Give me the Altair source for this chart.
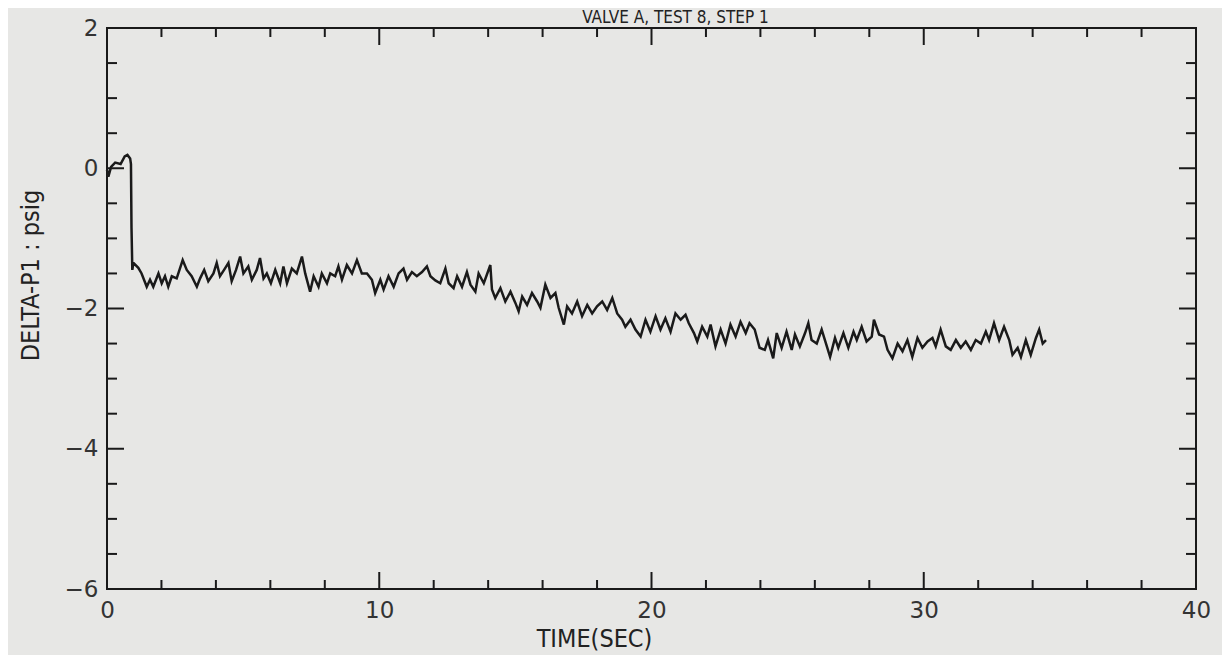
import altair as alt
import pandas as pd

title_text = "VALVE A, TEST 8, STEP 1"
x_title = "TIME(SEC)"
y_title = "DELTA-P1 : psig"

time_s = [
    0.00, 0.05, 0.15, 0.30, 0.50, 0.65, 0.75, 0.85, 0.88, 0.90, 0.93, 0.97,
    1.15, 1.27, 1.46, 1.58, 1.70, 1.89, 2.01, 2.13, 2.25, 2.38, 2.56, 2.78,
    2.93, 3.11, 3.30, 3.42, 3.57, 3.72, 3.91, 4.03, 4.15, 4.30, 4.46, 4.58,
    4.74, 4.89, 5.01, 5.19, 5.32, 5.50, 5.62, 5.75, 5.87, 6.02, 6.18, 6.36,
    6.48, 6.61, 6.79, 6.97, 7.16, 7.28, 7.46, 7.59, 7.77, 7.89, 8.08, 8.20,
    8.38, 8.50, 8.63, 8.81, 9.00, 9.18, 9.36, 9.55, 9.73, 9.85, 10.04, 10.16,
    10.34, 10.53, 10.71, 10.89, 11.02, 11.20, 11.38, 11.57, 11.75, 11.88, 12.06, 12.24,
    12.43, 12.55, 12.73, 12.86, 13.04, 13.22, 13.35, 13.53, 13.65, 13.84, 14.08, 14.14,
    14.26, 14.45, 14.63, 14.82, 15.00, 15.12, 15.25, 15.43, 15.61, 15.80, 15.92, 16.10,
    16.29, 16.47, 16.59, 16.78, 16.90, 17.08, 17.27, 17.45, 17.64, 17.82, 18.00, 18.19,
    18.37, 18.56, 18.74, 18.92, 19.04, 19.23, 19.41, 19.60, 19.78, 19.96, 20.15, 20.33,
    20.51, 20.70, 20.88, 21.07, 21.25, 21.37, 21.56, 21.68, 21.86, 22.05, 22.17, 22.35,
    22.54, 22.72, 22.90, 23.09, 23.27, 23.46, 23.60, 23.79, 23.97, 24.16, 24.28, 24.47,
    24.60, 24.78, 24.96, 25.15, 25.27, 25.45, 25.64, 25.76, 25.88, 26.07, 26.25, 26.37,
    26.56, 26.74, 26.86, 27.05, 27.23, 27.42, 27.54, 27.72, 27.90, 28.09, 28.17, 28.36,
    28.54, 28.67, 28.85, 29.04, 29.22, 29.40, 29.58, 29.77, 29.95, 30.14, 30.32, 30.44,
    30.62, 30.81, 30.99, 31.18, 31.36, 31.54, 31.73, 31.91, 32.10, 32.28, 32.40, 32.58,
    32.77, 32.95, 33.14, 33.26, 33.45, 33.57, 33.75, 33.93, 34.12, 34.24, 34.37, 34.49,
]

delta_p1 = [
    -0.02, -0.12, 0.02, 0.08, 0.06, 0.17, 0.19, 0.14, 0.06, -0.85, -1.45, -1.35,
    -1.42, -1.50, -1.69, -1.59, -1.69, -1.50, -1.64, -1.54, -1.69, -1.54, -1.57, -1.31,
    -1.45, -1.54, -1.69, -1.57, -1.45, -1.61, -1.50, -1.35, -1.54, -1.45, -1.35, -1.61,
    -1.45, -1.26, -1.50, -1.40, -1.59, -1.45, -1.28, -1.57, -1.50, -1.64, -1.45, -1.64,
    -1.40, -1.64, -1.43, -1.50, -1.26, -1.50, -1.76, -1.54, -1.69, -1.50, -1.64, -1.50,
    -1.54, -1.40, -1.59, -1.38, -1.50, -1.31, -1.50, -1.50, -1.59, -1.78, -1.59, -1.73,
    -1.54, -1.69, -1.50, -1.43, -1.59, -1.48, -1.54, -1.48, -1.40, -1.54, -1.60, -1.64,
    -1.43, -1.64, -1.71, -1.54, -1.69, -1.48, -1.66, -1.76, -1.50, -1.64, -1.38, -1.73,
    -1.85, -1.71, -1.90, -1.76, -1.92, -2.04, -1.83, -1.95, -1.78, -1.90, -1.99, -1.66,
    -1.85, -1.78, -1.99, -2.23, -1.97, -2.07, -1.90, -2.11, -1.95, -2.07, -1.97, -1.90,
    -2.02, -1.85, -2.07, -2.16, -2.26, -2.16, -2.30, -2.40, -2.16, -2.33, -2.11, -2.30,
    -2.14, -2.33, -2.07, -2.16, -2.09, -2.21, -2.35, -2.47, -2.26, -2.40, -2.23, -2.54,
    -2.30, -2.50, -2.23, -2.40, -2.19, -2.35, -2.21, -2.30, -2.56, -2.59, -2.45, -2.71,
    -2.35, -2.56, -2.33, -2.59, -2.37, -2.54, -2.35, -2.21, -2.45, -2.50, -2.30, -2.45,
    -2.69, -2.42, -2.56, -2.35, -2.56, -2.33, -2.45, -2.26, -2.47, -2.40, -2.16, -2.37,
    -2.40, -2.59, -2.71, -2.50, -2.61, -2.45, -2.69, -2.42, -2.56, -2.47, -2.42, -2.54,
    -2.30, -2.54, -2.59, -2.45, -2.56, -2.47, -2.59, -2.45, -2.50, -2.33, -2.45, -2.21,
    -2.45, -2.26, -2.45, -2.66, -2.56, -2.69, -2.45, -2.66, -2.42, -2.30, -2.50, -2.45,
]

x_labels = [0, 10, 20, 30, 40]
y_labels = [-6, -4, -2, 0, 2]
x_ticks_major = [10, 20, 30]
x_ticks_minor = [2, 4, 6, 8, 12, 14, 16, 18, 22, 24, 26, 28, 32, 34, 36, 38]
y_ticks_major = [-4, -2, 0]
y_ticks_minor = [-5.5, -5, -4.5, -3.5, -3, -2.5, -1.5, -1, -0.5, 0.5, 1, 1.5]

W, H = 1089, 561
INK = "#1a1a1a"
BG = "#e7e7e5"
NUM_FONT = "DejaVu Sans"
TXT_FONT = "DejaVu Sans Condensed, Liberation Sans Narrow, DejaVu Sans"

xs = alt.Scale(domain=[0, 40], nice=False, zero=False)
ys = alt.Scale(domain=[-6, 2], nice=False, zero=False)

x_axis = alt.Axis(
    values=x_labels, ticks=False, domain=False, grid=False,
    labelFont=NUM_FONT, labelFontSize=23, labelColor="#333", labelPadding=10,
    titleFont=TXT_FONT, titleFontSize=25, titleFontWeight="normal", titleColor="#222",
    titleX=487, titleY=49, titleBaseline="middle", titleAlign="center",
    labelFlush=False)
y_axis = alt.Axis(
    values=y_labels, ticks=False, domain=False, grid=False,
    labelFont=NUM_FONT, labelFontSize=23, labelColor="#333", labelPadding=9,
    titleFont=TXT_FONT, titleFontSize=25, titleFontWeight="normal", titleColor="#222",
    titleX=-77, titleY=247, titleBaseline="middle", titleAlign="center", titleAngle=-90,
    labelFlush=False)

df = pd.DataFrame({"t": time_s, "p": delta_p1})

line = alt.Chart(df).mark_line(color=INK, strokeWidth=2.5, strokeJoin="miter").encode(
    x=alt.X("t:Q", scale=xs, axis=x_axis, title=x_title),
    y=alt.Y("p:Q", scale=ys, axis=y_axis, title=y_title),
)


def xrules(vals, y0, y1):
    return alt.Chart(pd.DataFrame({"t": vals})).mark_rule(color=INK, strokeWidth=2).encode(
        x=alt.X("t:Q", scale=xs, axis=x_axis, title=x_title), y=alt.value(y0), y2=alt.value(y1))


def yrules(vals, x0, x1):
    return alt.Chart(pd.DataFrame({"p": vals})).mark_rule(color=INK, strokeWidth=2).encode(
        y=alt.Y("p:Q", scale=ys, axis=y_axis, title=y_title), x=alt.value(x0), x2=alt.value(x1))


MINOR, MAJOR = 9, 17

title_mark = alt.Chart(pd.DataFrame({"label": [title_text]})).mark_text(
    font=TXT_FONT, fontSize=17, color="#222", align="center", baseline="alphabetic"
).encode(text="label:N", x=alt.value(W / 2 + 24), y=alt.value(-5))

layers = [
    line,
    xrules(x_ticks_minor, H, H - MINOR), xrules(x_ticks_major, H, H - MAJOR),
    xrules(x_ticks_minor, 0, MINOR), xrules(x_ticks_major, 0, MAJOR),
    yrules(y_ticks_minor, 0, MINOR + 1), yrules(y_ticks_major, 0, MAJOR),
    yrules(y_ticks_minor, W, W - MINOR - 1), yrules(y_ticks_major, W, W - MAJOR),
    title_mark,
]

chart = alt.layer(*layers).properties(
    width=W, height=H,
    background=BG,
    padding={"left": 99, "top": 20, "right": 26, "bottom": 66},
    autosize=alt.AutoSizeParams(type="none"),
).configure_view(stroke=INK, strokeWidth=2)

chart.save("out.html", embed_options={"renderer": "svg", "actions": False})
